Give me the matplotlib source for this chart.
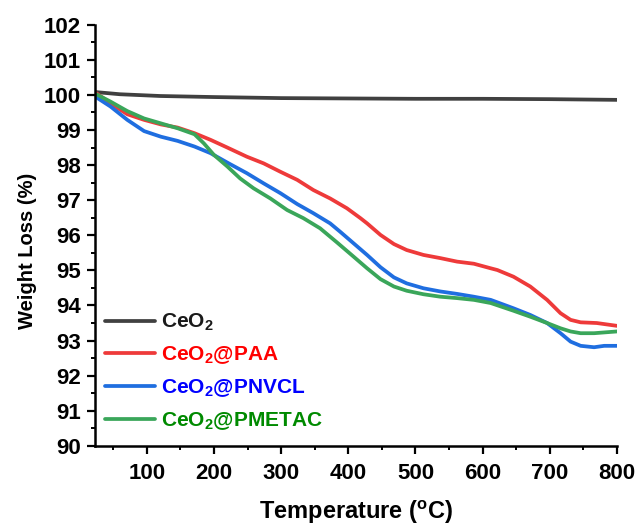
import matplotlib
matplotlib.use('Agg')
import matplotlib.pyplot as plt
from matplotlib.ticker import MultipleLocator

plt.rcParams['font.family'] = ['Liberation Sans', 'DejaVu Sans']
plt.rcParams['font.weight'] = 'bold'
plt.rcParams['axes.labelweight'] = 'bold'
plt.rcParams['mathtext.fontset'] = 'custom'
plt.rcParams['mathtext.rm'] = 'Liberation Sans:bold'
plt.rcParams['mathtext.bf'] = 'Liberation Sans:bold'
plt.rcParams['mathtext.it'] = 'Liberation Sans:bold'

# TGA curves: temperature (C) vs remaining weight (%)
t_ceo2 = [25, 60, 120, 200, 300, 400, 500, 600, 700, 800]
w_ceo2 = [100.08, 100.02, 99.97, 99.94, 99.91, 99.9, 99.89, 99.89, 99.88, 99.86]

t_paa = [25, 46, 71, 96, 121, 146, 171, 195, 220, 249, 274, 299, 324, 348,
         373, 398, 418, 428, 448, 468, 487, 512, 537, 562, 587, 612, 622,
         646, 671, 696, 716, 731, 746, 770, 800]
w_paa = [100.05, 99.76, 99.45, 99.29, 99.16, 99.07, 98.91, 98.72, 98.5, 98.24,
         98.05, 97.81, 97.58, 97.29, 97.05, 96.77, 96.49, 96.34, 96.01, 95.75,
         95.58, 95.44, 95.35, 95.25, 95.19, 95.06, 95.01, 94.82, 94.54, 94.16,
         93.78, 93.59, 93.52, 93.5, 93.42]

t_pnvcl = [25, 46, 71, 96, 121, 146, 171, 195, 222, 249, 274, 299, 324, 348,
           373, 388, 408, 428, 448, 468, 487, 512, 537, 562, 587, 612, 646,
           671, 696, 716, 731, 746, 766, 781, 800]
w_pnvcl = [99.93, 99.67, 99.29, 98.97, 98.81, 98.69, 98.53, 98.34, 98.05,
           97.77, 97.48, 97.2, 96.89, 96.63, 96.34, 96.1, 95.77, 95.44, 95.09,
           94.8, 94.63, 94.49, 94.4, 94.33, 94.25, 94.16, 93.92, 93.73, 93.5,
           93.21, 92.97, 92.85, 92.81, 92.85, 92.85]

t_pmetac = [25, 46, 71, 96, 121, 146, 171, 185, 200, 220, 239, 259, 284, 309,
            333, 358, 383, 408, 428, 448, 468, 487, 512, 537, 562, 587, 612,
            646, 671, 696, 716, 731, 746, 766, 800]
w_pmetac = [100.02, 99.81, 99.54, 99.33, 99.19, 99.05, 98.88, 98.62, 98.29,
            97.96, 97.62, 97.34, 97.05, 96.72, 96.49, 96.2, 95.8, 95.39, 95.06,
            94.75, 94.54, 94.42, 94.32, 94.25, 94.21, 94.16, 94.07, 93.85,
            93.68, 93.5, 93.35, 93.26, 93.21, 93.21, 93.26]

labels = ['CeO$_\\mathbf{2}$', 'CeO$_\\mathbf{2}$@PAA',
          'CeO$_\\mathbf{2}$@PNVCL', 'CeO$_\\mathbf{2}$@PMETAC']
line_colors = ['#404040', '#ee3a3a', '#1f6ee0', '#3aa65a']
text_colors = ['#1a1a1a', '#ff0000', '#0000ff', '#008a00']

fig = plt.figure(figsize=(6.38, 5.27), dpi=100)
ax = fig.add_axes([0.149, 0.154, 0.818, 0.799])

curves = [(t_ceo2, w_ceo2), (t_paa, w_paa), (t_pnvcl, w_pnvcl),
          (t_pmetac, w_pmetac)]
for (t, w), c, lab in zip(curves, line_colors, labels):
    ax.plot(t, w, '-', color=c, lw=2.7, label=lab,
            solid_capstyle='round', solid_joinstyle='round')

ax.set_xlim(23, 800)
ax.set_ylim(90, 102)
ax.xaxis.set_major_locator(MultipleLocator(100))
ax.xaxis.set_minor_locator(MultipleLocator(50))
ax.yaxis.set_major_locator(MultipleLocator(1))
ax.yaxis.set_minor_locator(MultipleLocator(0.5))
ax.set_xticks(range(100, 801, 100))

for s in ['top', 'right']:
    ax.spines[s].set_visible(False)
for s in ['left', 'bottom']:
    ax.spines[s].set_linewidth(1.8)
ax.tick_params(which='major', direction='out', length=5.5, width=1.6,
               labelsize=16)
ax.tick_params(axis='x', which='major', pad=7)
ax.tick_params(axis='y', which='major', pad=4.5)
ax.tick_params(which='minor', direction='out', length=3, width=1.4)
for lbl in ax.get_xticklabels() + ax.get_yticklabels():
    lbl.set_fontweight('bold')

ax.set_xlabel('Temperature ($^\\mathbf{o}$C)', fontsize=17, labelpad=10.5)
ax.set_ylabel('Weight Loss (%)', fontsize=14.5)
ax.yaxis.set_label_coords(-0.111, 0.463)

leg = ax.legend(loc='lower left', bbox_to_anchor=(0.0, 0.008), frameon=False,
                fontsize=15, handlelength=2.4, handletextpad=0.25,
                labelspacing=0.53, borderaxespad=0.1)
for txt, c in zip(leg.get_texts(), text_colors):
    txt.set_color(c)

fig.savefig('out.png', dpi=100)
